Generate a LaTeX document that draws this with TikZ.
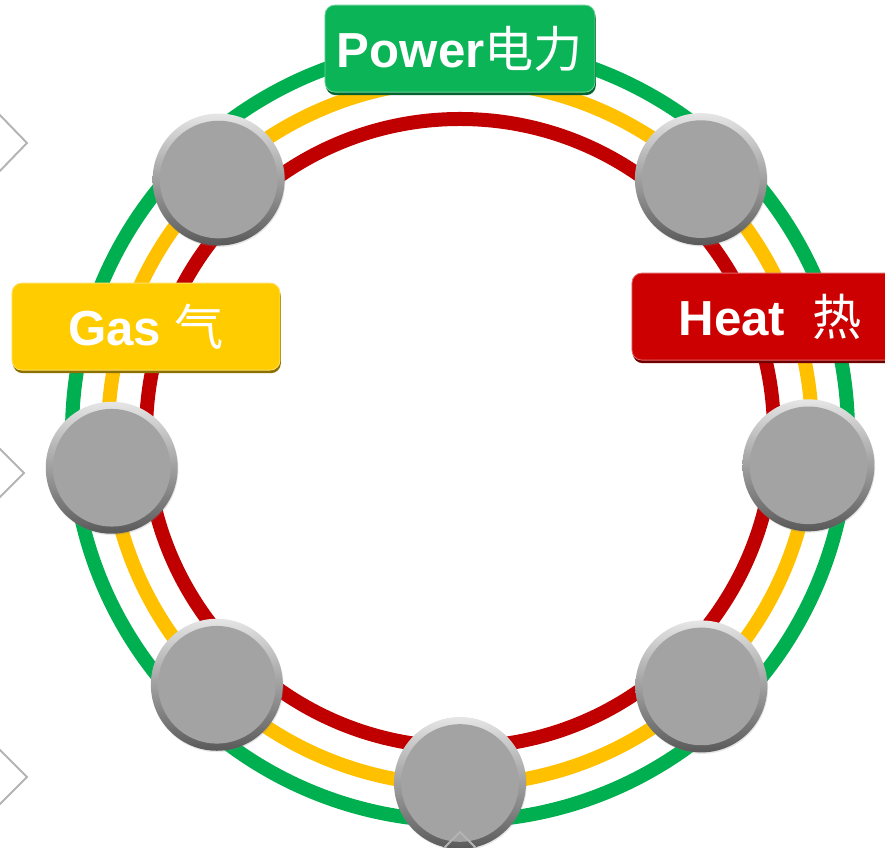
\documentclass[tikz,border=0pt]{standalone}
\usepackage{fontspec}
\setmainfont{Liberation Sans}
\newfontfamily\cjk{Noto Sans CJK SC}
\usepackage{tikz}
\usetikzlibrary{shadows}
\definecolor{ringgreen}{HTML}{00B050}
\definecolor{ringyellow}{HTML}{FFC000}
\definecolor{ringred}{HTML}{C00000}
\definecolor{taggreen}{HTML}{0BB457}
\definecolor{tagyellow}{HTML}{FFCC00}
\definecolor{tagred}{HTML}{CC0000}
\definecolor{hubgray}{HTML}{A3A3A3}
\definecolor{markgray}{HTML}{B4B4B4}

\begin{document}
\begin{tikzpicture}[
  ring/.style={line width=0.35cm},
  hub/.style={circle, inner sep=0, minimum size=3.3cm, shading angle=25, top color=gray!20, bottom color=gray!70!black,
    drop shadow={opacity=0.2, shadow xshift=0.5pt, shadow yshift=-1pt},
    path picture={\fill[hubgray] (path picture bounding box.center) circle (1.47cm);}},
  tag/.style={rounded corners=7pt, inner sep=0, minimum height=2.175cm, text=white, fill=#1, draw=#1!60!white, line width=0.6pt,
    drop shadow={opacity=1, fill=#1!55!black, shadow xshift=0.6pt, shadow yshift=-2.2pt},
    font=\fontsize{35}{42}\selectfont\bfseries},
  sidemark/.style={draw=markgray, line width=1.4pt}]
\useasboundingbox (-11.5,-10.375) rectangle (10.625,10.825);
% rings
\draw[ring, ringgreen]  (0,0) circle (9.7);
\draw[ring, ringyellow] (0,0) circle (8.8);
\draw[ring, ringred]    (0,0) circle (7.85);
% hubs
\foreach \a [count=\i] in {46.5,133.6,185.7,226,270,313.6,354.7}
  \node[hub] (hub\i) at (\a:8.75) {};
% labels
\node[tag=taggreen,  minimum width=6.75cm] (power) at (0,9.61)     {Power{\cjk\mdseries 电力}};
\node[tag=tagyellow, minimum width=6.7cm]  (gas)   at (-7.85,2.66) {Gas {\cjk\mdseries 气}};
\node[tag=tagred,    minimum width=6.9cm]  (heat)  at (7.75,2.91)  {Heat\hspace{0.55em}{\cjk\mdseries 热}};
% side marks
\draw[sidemark] (-11.625,8.075) -- (-10.825,7.25) -- (-11.625,6.425);
\draw[sidemark] (-11.625,-0.275) -- (-10.9,-1.0) -- (-11.625,-1.725);
\draw[sidemark] (-11.625,-7.8) -- (-10.825,-8.6) -- (-11.625,-9.4);
\draw[sidemark] (-0.8,-10.775) -- (0,-9.975) -- (0.8,-10.775);
\end{tikzpicture}
\end{document}
